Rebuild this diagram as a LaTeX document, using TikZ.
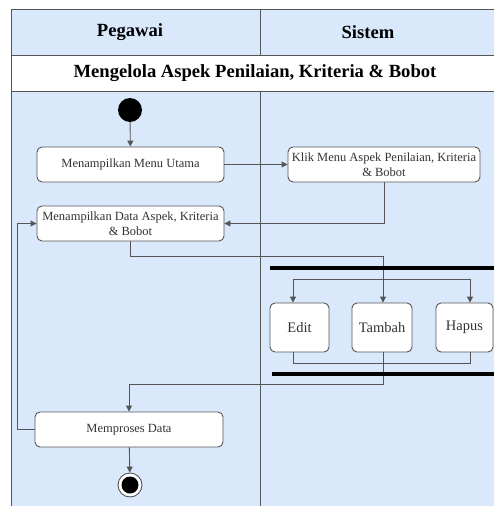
\documentclass[tikz,border=0pt]{standalone}
\usepackage{fontspec}
\setmainfont{Liberation Serif}
\usetikzlibrary{arrows.meta}

\definecolor{lanebg}{HTML}{DAE8FC}
\definecolor{edgegray}{HTML}{555555}
\definecolor{textgray}{HTML}{333333}

\tikzset{
  lane/.style={draw=edgegray, line width=0.9pt},
  heading/.style={font=\bfseries\fontsize{18.6}{20}\selectfont, text=black},
  action/.style={draw=edgegray, fill=white, rounded corners=5pt, line width=0.9pt,
    align=center, text=textgray, inner sep=2pt, font=\fontsize{12.5}{14.5}\selectfont},
  smallaction/.style={action, font=\fontsize{14.5}{16}\selectfont},
  flow/.style={draw=edgegray, line width=0.9pt, -{Triangle[length=6pt,width=6pt]}},
  plainflow/.style={draw=edgegray, line width=0.9pt},
  syncbar/.style={fill=black, inner sep=0pt, minimum height=4pt},
}

\begin{document}
\begin{tikzpicture}[x=1pt,y=-1pt]
  \useasboundingbox (0,0) rectangle (494,506);
  \clip (0,0) rectangle (494,506);

  % swimlanes
  \fill[lanebg] (11,9) rectangle (540,55);
  \fill[white] (11,55) rectangle (540,91);
  \fill[lanebg] (11,91) rectangle (540,540);
  \draw[lane] (11,540) -- (11,9) -- (540,9);
  \draw[lane] (11,55) -- (540,55);
  \draw[lane] (11,91) -- (540,91);
  \draw[lane] (260,9) -- (260,55);
  \draw[lane] (260,91) -- (260,540);

  % headings
  \node[heading] (pegawai) at (130,32) {Pegawai};
  \node[heading] (sistem) at (368,32) {Sistem};
  \node[heading] (judul) at (255,73) {Mengelola Aspek Penilaian, Kriteria \& Bobot};

  % nodes
  \node[circle, fill=black, minimum size=24pt, inner sep=0pt] (start) at (130,110) {};
  \node[action, minimum width=187pt, minimum height=35pt] (menu) at (130.5,164.5) {Menampilkan Menu Utama};
  \node[action, minimum width=192pt, minimum height=35pt] (klik) at (384,164.5) {Klik Menu Aspek Penilaian, Kriteria\\\& Bobot};
  \node[action, minimum width=187pt, minimum height=35pt] (data) at (130.5,223.5) {Menampilkan Data Aspek, Kriteria\\\& Bobot};
  \node[smallaction, minimum width=59pt, minimum height=49pt] (edit) at (299.5,327.5) {Edit};
  \node[smallaction, minimum width=60pt, minimum height=49pt] (tambah) at (382,327.5) {Tambah};
  \node[smallaction, minimum width=57pt, minimum height=49pt] (hapus) at (464.5,327.5) {Hapus};
  \node[action, minimum width=188pt, minimum height=35pt] (proses) at (129,429.5) {Memproses Data};
  \node[circle, draw=edgegray, fill=white, line width=0.9pt, minimum size=24pt, inner sep=0pt,
    path picture={\fill[black] (path picture bounding box.center) circle (8.5pt);}] (akhir) at (130,485) {};

  % connectors
  \draw[flow] (start) -- (menu);
  \draw[flow] (menu) -- (klik);
  \draw[flow] (klik.south) |- (data.east);
  \draw[flow] (data.south) -- ++(0,15) -| ([xshift=1pt]tambah.north);
  \draw[flow] ([xshift=1pt]tambah.north |- 0,270) -- ++(0,9) -| ([xshift=-6.5pt]edit.north);
  \draw[flow] ([xshift=1pt]tambah.north |- 0,270) -- ++(0,9) -| ([xshift=5.5pt]hapus.north);
  \draw[plainflow] ([xshift=-6.5pt]edit.south) -- ++(0,11) -| ([xshift=5.5pt]hapus.south);
  \draw[flow] ([xshift=1pt]tambah.south) -- ++(0,32) -| (proses.north);
  \draw[flow] (proses.west) -- ++(-17,0) |- (data.west);
  \draw[flow] (proses) -- (akhir);

  % fork and join bars
  \node[syncbar, minimum width=270pt] (forkbar) at (405,268) {};
  \node[syncbar, minimum width=268pt] (joinbar) at (406,374) {};
\end{tikzpicture}
\end{document}
